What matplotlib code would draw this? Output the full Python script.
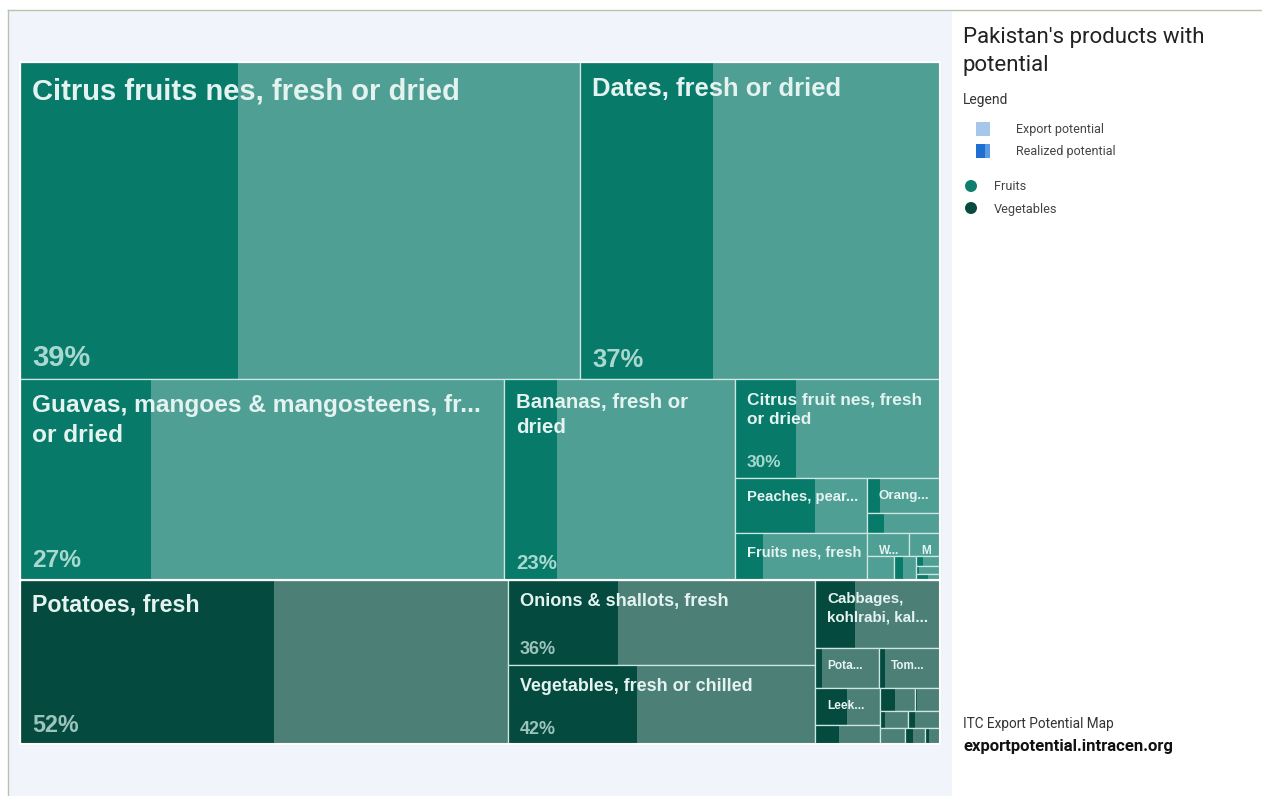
import matplotlib.pyplot as plt
from matplotlib.patches import Rectangle, Circle

# products: estimated export potential (USD m), realized share (%)
names = [
    "Citrus fruits nes, fresh or dried", "Dates, fresh or dried",
    "Guavas, mangoes & mangosteens, fresh or dried", "Bananas, fresh or dried",
    "Citrus fruit nes, fresh or dried", "Peaches, pears", "Fruits nes, fresh",
    "Oranges, fresh or dried", "Apples, fresh", "Watermelons, fresh", "Melons, fresh",
    "Apricots, fresh", "Grapes, fresh", "Plums, fresh", "Papaws, fresh", "Cherries, fresh",
    "Potatoes, fresh", "Onions & shallots, fresh", "Vegetables, fresh or chilled",
    "Cabbages, kohlrabi, kale", "Potatoes, seed", "Tomatoes, fresh or chilled",
    "Leeks & other alliaceous vegetables", "Carrots & turnips", "Cauliflowers",
    "Peas", "Garlic", "Lettuce", "Cucumbers", "Beans", "Chillies",
]
groups = ["Fruits"] * 16 + ["Vegetables"] * 15
potential = [
    177.5, 114.1, 96.8, 46.2, 20.1, 7.26, 6.20, 2.56, 1.46, 0.97, 0.71,
    0.65, 0.53, 0.24, 0.19, 0.14,
    80.0, 26.1, 24.3, 8.50, 2.56, 2.44, 2.41, 1.24, 0.81, 0.58, 0.48, 0.54,
    0.40, 0.32, 0.24,
]
realized = [
    39, 37, 27, 23, 30, 61, 21, 18, 23, 3, 2, 5, 40, 30, 10, 50,
    52, 36, 42, 32, 11, 10, 50, 37, 43, 10, 18, 20, 5, 40, 30,
]
labels = [
    "Citrus fruits nes, fresh or dried", "Dates, fresh or dried",
    "Guavas, mangoes & mangosteens, fr...\nor dried", "Bananas, fresh or\ndried",
    "Citrus fruit nes, fresh\nor dried", "Peaches, pear...", "Fruits nes, fresh",
    "Orang...", "", "W...", "M", "", "", "", "", "",
    "Potatoes, fresh", "Onions & shallots, fresh", "Vegetables, fresh or chilled",
    "Cabbages,\nkohlrabi, kal...", "Pota...", "Tom...", "Leek...", "", "",
    "", "", "", "", "", "",
]

# nesting of the treemap: 'h' = side by side, 'v' = stacked
fruits = ('v', [('h', [0, 1]),
                ('h', [2, 3, ('v', [4, ('h', [('v', [5, 6]),
                                              ('v', [7, 8, ('h', [9, 10]),
                                                     ('h', [11, 12, ('v', [13, 14, 15])])])])])])])
vegs = ('h', [16, ('v', [17, 18]),
              ('v', [19, ('h', [20, 21]),
                     ('h', [('v', [22, 23]),
                            ('v', [('h', [24, 25]), ('h', [26, 27]), ('h', [28, 29, 30])])])])])
tree = ('v', [fruits, vegs])

colors = {"Fruits": ("#4f9f95", "#077a6a"), "Vegetables": ("#4c8077", "#044a3e")}
pct_color = {"Fruits": "#a8d8d0", "Vegetables": "#9cc4bc"}


def total(node):
    if isinstance(node, int):
        return potential[node]
    return sum(total(k) for k in node[1])


def place(node, x, y, w, h, out):
    if isinstance(node, int):
        out[node] = (x, y, w, h)
        return
    d, kids = node
    s = total(node)
    for k in kids:
        f = total(k) / s
        if d == 'h':
            place(k, x, y, w * f, h, out)
            x += w * f
        else:
            place(k, x, y, w, h * f, out)
            y += h * f


fig = plt.figure(figsize=(12.62, 7.96), dpi=100)
ax = fig.add_axes([0, 0, 1, 1])
ax.set_xlim(0, 1262)
ax.set_ylim(796, 0)
ax.axis("off")

# page background and frame
ax.add_patch(Rectangle((8, 10), 944, 786, facecolor="#f1f5fb", edgecolor="none"))
ax.plot([8, 1262], [10, 10], color="#b9c3ab", lw=1)
ax.plot([8, 8], [10, 796], color="#b9c3ab", lw=1)

rects = {}
place(tree, 20, 62, 920, 682, rects)

for i, (x, y, w, h) in rects.items():
    light, dark = colors[groups[i]]
    ax.add_patch(Rectangle((x, y), w, h, facecolor=light, edgecolor="none"))
    ax.add_patch(Rectangle((x, y), w * realized[i] / 100, h, facecolor=dark, edgecolor="none"))
    ax.add_patch(Rectangle((x, y), w, h, facecolor="none", edgecolor="#cfe7e2", lw=0.9))
    area = w * h
    fs = min(8.1 + 0.0306 * area ** 0.5, max(w / 7.5, 8.5))
    if labels[i]:
        ax.text(x + 12, y + 10 + 0.25 * fs, labels[i], fontsize=fs, fontweight="bold",
                family="Liberation Sans", color="#e4f3f0", va="top", ha="left",
                linespacing=1.4)
    if area > 15000:
        ax.text(x + 12, y + h - (5 + 0.3 * fs * 1.39), f"{realized[i]}%", fontsize=fs,
                fontweight="bold", family="Liberation Sans", color=pct_color[groups[i]],
                va="baseline", ha="left")

# group separators
split = 682 * total(fruits) / total(tree)
ax.add_patch(Rectangle((20, 62), 920, split, facecolor="none", edgecolor="white", lw=1.5))
ax.add_patch(Rectangle((20, 62 + split), 920, 682 - split,
                       facecolor="none", edgecolor="white", lw=1.5))

# legend panel
ax.text(963, 38, "Pakistan's products with", fontsize=16, family="Roboto",
        color="#222222", va="center", ha="left")
ax.text(963, 65, "potential", fontsize=16, family="Roboto",
        color="#222222", va="center", ha="left")
ax.text(963, 100, "Legend", fontsize=10, family="Roboto", color="#333333", va="center")
ax.add_patch(Rectangle((976, 122), 14, 14, facecolor="#a6c7ea", edgecolor="none"))
ax.add_patch(Rectangle((976, 144), 9, 14, facecolor="#1f6fd1", edgecolor="none"))
ax.add_patch(Rectangle((985, 144), 5, 14, facecolor="#5b9be3", edgecolor="none"))
ax.text(1016, 129, "Export potential", fontsize=9, family="Roboto", color="#444444", va="center")
ax.text(1016, 151, "Realized potential", fontsize=9, family="Roboto", color="#444444", va="center")
ax.add_patch(Circle((971, 186), 6, facecolor="#0e7f6e", edgecolor="none"))
ax.add_patch(Circle((971, 208), 6, facecolor="#064b3e", edgecolor="none"))
ax.text(994, 187, "Fruits", fontsize=9.2, family="Roboto", color="#444444", va="center")
ax.text(994, 209, "Vegetables", fontsize=9.2, family="Roboto", color="#444444", va="center")

ax.text(963, 724, "ITC Export Potential Map", fontsize=9.8, family="Roboto",
        color="#333333", va="center")
ax.text(963, 746, "exportpotential.intracen.org", fontsize=12, family="Roboto",
        fontweight="bold", color="#111111", va="center")

fig.savefig("out.png", dpi=100)
